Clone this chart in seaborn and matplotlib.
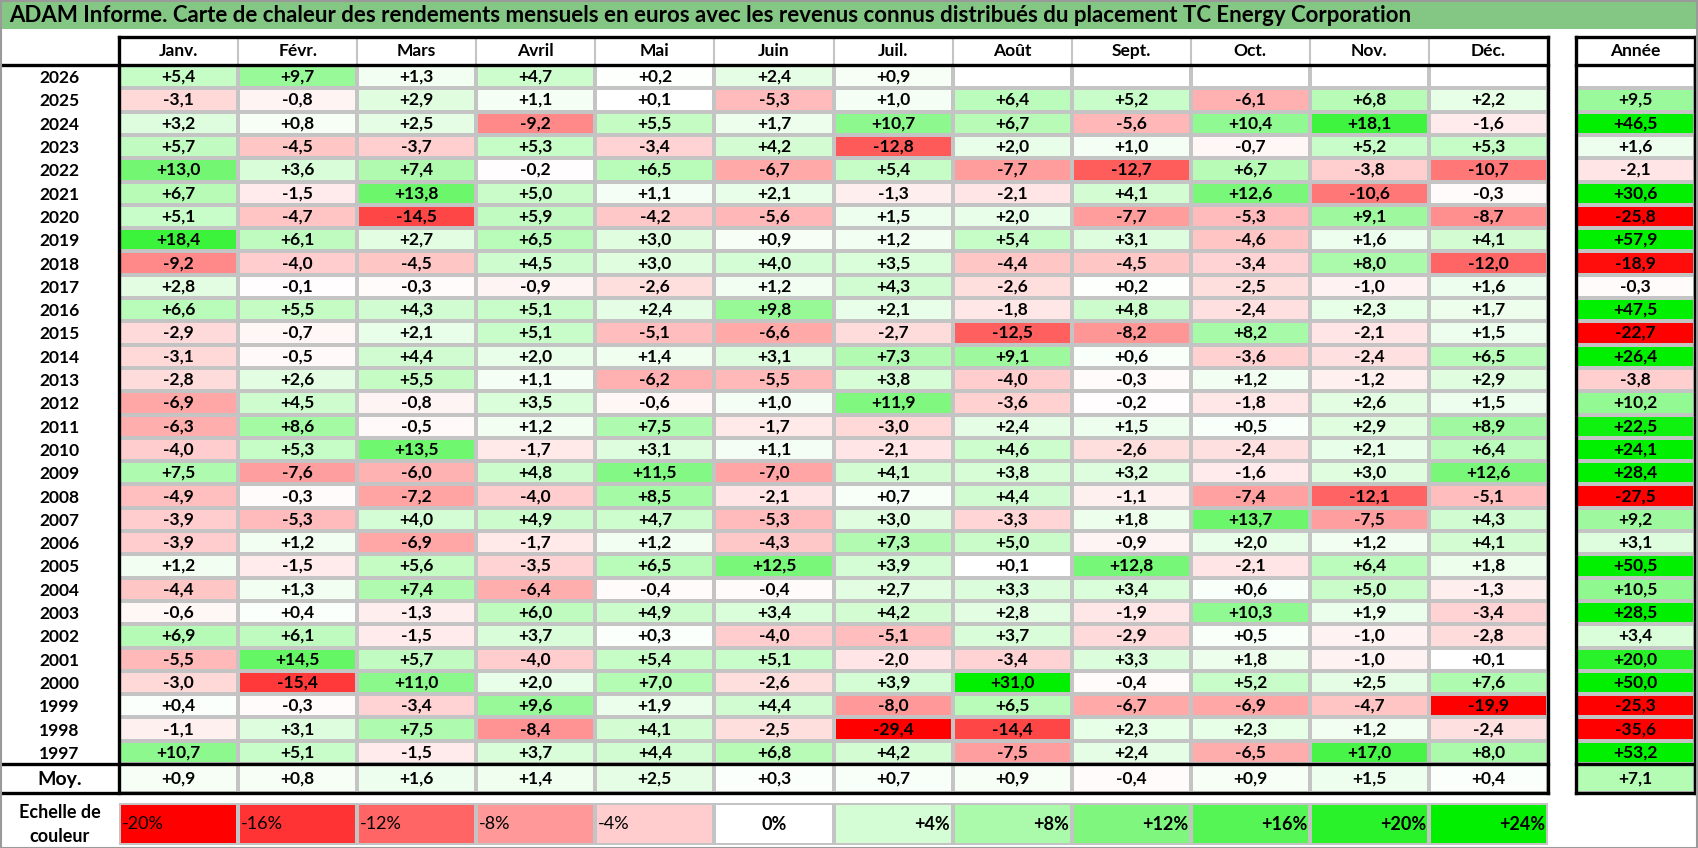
import numpy as np
import pandas as pd
import matplotlib
matplotlib.use("Agg")
import matplotlib.pyplot as plt
from matplotlib.colors import LinearSegmentedColormap
from matplotlib.lines import Line2D
from matplotlib.patches import Rectangle
import seaborn as sns

plt.rcParams["font.family"] = ["Lato", "DejaVu Sans"]

title = ("ADAM Informe. Carte de chaleur des rendements mensuels en euros avec les revenus "
         "connus distribués du placement TC Energy Corporation")

years = [str(y) for y in range(2026, 1996, -1)]
months = ["Janv.", "Févr.", "Mars", "Avril", "Mai", "Juin",
          "Juil.", "Août", "Sept.", "Oct.", "Nov.", "Déc."]

jan = [5.4, -3.1, 3.2, 5.7, 13.0, 6.7, 5.1, 18.4, -9.2, 2.8, 6.6, -2.9, -3.1, -2.8, -6.9,
       -6.3, -4.0, 7.5, -4.9, -3.9, -3.9, 1.2, -4.4, -0.6, 6.9, -5.5, -3.0, 0.4, -1.1, 10.7]
feb = [9.7, -0.8, 0.8, -4.5, 3.6, -1.5, -4.7, 6.1, -4.0, -0.1, 5.5, -0.7, -0.5, 2.6, 4.5,
       8.6, 5.3, -7.6, -0.3, -5.3, 1.2, -1.5, 1.3, 0.4, 6.1, 14.5, -15.4, -0.3, 3.1, 5.1]
mar = [1.3, 2.9, 2.5, -3.7, 7.4, 13.8, -14.5, 2.7, -4.5, -0.3, 4.3, 2.1, 4.4, 5.5, -0.8,
       -0.5, 13.5, -6.0, -7.2, 4.0, -6.9, 5.6, 7.4, -1.3, -1.5, 5.7, 11.0, -3.4, 7.5, -1.5]
apr = [4.7, 1.1, -9.2, 5.3, -0.2, 5.0, 5.9, 6.5, 4.5, -0.9, 5.1, 5.1, 2.0, 1.1, 3.5,
       1.2, -1.7, 4.8, -4.0, 4.9, -1.7, -3.5, -6.4, 6.0, 3.7, -4.0, 2.0, 9.6, -8.4, 3.7]
may = [0.2, 0.1, 5.5, -3.4, 6.5, 1.1, -4.2, 3.0, 3.0, -2.6, 2.4, -5.1, 1.4, -6.2, -0.6,
       7.5, 3.1, 11.5, 8.5, 4.7, 1.2, 6.5, -0.4, 4.9, 0.3, 5.4, 7.0, 1.9, 4.1, 4.4]
jun = [2.4, -5.3, 1.7, 4.2, -6.7, 2.1, -5.6, 0.9, 4.0, 1.2, 9.8, -6.6, 3.1, -5.5, 1.0,
       -1.7, 1.1, -7.0, -2.1, -5.3, -4.3, 12.5, -0.4, 3.4, -4.0, 5.1, -2.6, 4.4, -2.5, 6.8]
jul = [0.9, 1.0, 10.7, -12.8, 5.4, -1.3, 1.5, 1.2, 3.5, 4.3, 2.1, -2.7, 7.3, 3.8, 11.9,
       -3.0, -2.1, 4.1, 0.7, 3.0, 7.3, 3.9, 2.7, 4.2, -5.1, -2.0, 3.9, -8.0, -29.4, 4.2]
aug = [np.nan, 6.4, 6.7, 2.0, -7.7, -2.1, 2.0, 5.4, -4.4, -2.6, -1.8, -12.5, 9.1, -4.0, -3.6,
       2.4, 4.6, 3.8, 4.4, -3.3, 5.0, 0.1, 3.3, 2.8, 3.7, -3.4, 31.0, 6.5, -14.4, -7.5]
sep = [np.nan, 5.2, -5.6, 1.0, -12.7, 4.1, -7.7, 3.1, -4.5, 0.2, 4.8, -8.2, 0.6, -0.3, -0.2,
       1.5, -2.6, 3.2, -1.1, 1.8, -0.9, 12.8, 3.4, -1.9, -2.9, 3.3, -0.4, -6.7, 2.3, 2.4]
oct_ = [np.nan, -6.1, 10.4, -0.7, 6.7, 12.6, -5.3, -4.6, -3.4, -2.5, -2.4, 8.2, -3.6, 1.2, -1.8,
        0.5, -2.4, -1.6, -7.4, 13.7, 2.0, -2.1, 0.6, 10.3, 0.5, 1.8, 5.2, -6.9, 2.3, -6.5]
nov = [np.nan, 6.8, 18.1, 5.2, -3.8, -10.6, 9.1, 1.6, 8.0, -1.0, 2.3, -2.1, -2.4, -1.2, 2.6,
       2.9, 2.1, 3.0, -12.1, -7.5, 1.2, 6.4, 5.0, 1.9, -1.0, -1.0, 2.5, -4.7, 1.2, 17.0]
dec = [np.nan, 2.2, -1.6, 5.3, -10.7, -0.3, -8.7, 4.1, -12.0, 1.6, 1.7, 1.5, 6.5, 2.9, 1.5,
       8.9, 6.4, 12.6, -5.1, 4.3, 4.1, 1.8, -1.3, -3.4, -2.8, 0.1, 7.6, -19.9, -2.4, 8.0]
annual = [np.nan, 9.5, 46.5, 1.6, -2.1, 30.6, -25.8, 57.9, -18.9, -0.3, 47.5, -22.7, 26.4, -3.8, 10.2,
          22.5, 24.1, 28.4, -27.5, 9.2, 3.1, 50.5, 10.5, 28.5, 3.4, 20.0, 50.0, -25.3, -35.6, 53.2]
month_avg = [0.9, 0.8, 1.6, 1.4, 2.5, 0.3, 0.7, 0.9, -0.4, 0.9, 1.5, 0.4]
annual_avg = [7.1]
scale_steps = [-20, -16, -12, -8, -4, 0, 4, 8, 12, 16, 20, 24]
scale_labels = ["-20%", "-16%", "-12%", "-8%", "-4%", "0%",
                "+4%", "+8%", "+12%", "+16%", "+20%", "+24%"]

monthly = pd.DataFrame(dict(zip(months, [jan, feb, mar, apr, may, jun, jul, aug, sep, oct_, nov, dec])),
                       index=years)

W, H = 1698, 848
VMIN, VMAX = -20, 24
cmap = LinearSegmentedColormap.from_list(
    "adam", [(0, "#ff0000"), (-VMIN / (VMAX - VMIN), "#ffffff"), (1, "#00f000")])
GRID = "#c4c4c4"
TXT = dict(fontsize=12.5, fontweight="bold", color="black")


def box(x0, y0, x1, y1):
    return [x0 / W, 1 - y1 / H, (x1 - x0) / W, (y1 - y0) / H]


def fmt(v):
    if np.isnan(v):
        return ""
    return f"{v:+.1f}".replace(".", ",")


def hline(y, x0, x1, lw=2.4, color="black"):
    fig.add_artist(Line2D([x0 / W, x1 / W], [1 - y / H, 1 - y / H], lw=lw, color=color,
                          transform=fig.transFigure, zorder=10))


def vline(x, y0, y1, lw=2.4, color="black"):
    fig.add_artist(Line2D([x / W, x / W], [1 - y0 / H, 1 - y1 / H], lw=lw, color=color,
                          transform=fig.transFigure, zorder=10))


def heat(ax, data, labels):
    sns.heatmap(data, ax=ax, cmap=cmap, vmin=VMIN, vmax=VMAX, cbar=False,
                annot=labels, fmt="", annot_kws=TXT, linewidths=1.5, linecolor=GRID,
                xticklabels=False, yticklabels=False)
    ax.tick_params(length=0)


fig = plt.figure(figsize=(W / 100, H / 100), dpi=100)
fig.patch.set_facecolor("white")

# bandeau titre
ax_t = fig.add_axes(box(1, 1, 1696, 29))
ax_t.set_facecolor("#84c784")
ax_t.set_xticks([])
ax_t.set_yticks([])
for s in ax_t.spines.values():
    s.set_visible(False)
ax_t.text(8 / 1695, 0.5, title, ha="left", va="center", fontsize=16, fontweight="bold",
          transform=ax_t.transAxes)

X0, X1 = 119, 1548
YX0, YX1 = 1576, 1695
HY0, HY1 = 37, 65
TY1 = 764
MY1 = 793

# en-tetes des mois
ax_h = fig.add_axes(box(X0, HY0, X1, HY1))
ax_h.set_xlim(0, 12)
ax_h.set_ylim(0, 1)
ax_h.axis("off")
for i, m in enumerate(months):
    ax_h.text(i + 0.5, 0.5, m, ha="center", va="center", **TXT)
    if i:
        ax_h.axvline(i, color=GRID, lw=1.5)

# tableau principal
ax_m = fig.add_axes(box(X0, HY1, X1, TY1))
heat(ax_m, monthly, monthly.map(fmt).values)
ax_m.set_yticks(np.arange(len(years)) + 0.5)
ax_m.set_yticklabels(years, rotation=0, ha="center", **TXT)
ax_m.tick_params(axis="y", pad=59.5 * 0.72)

# moyennes mensuelles
ax_a = fig.add_axes(box(X0, TY1, X1, MY1))
avg_df = pd.DataFrame([month_avg], columns=months, index=["Moy."])
heat(ax_a, avg_df, avg_df.map(fmt).values)
ax_a.set_yticks([0.5])
ax_a.set_yticklabels(["Moy."], rotation=0, ha="center", fontsize=14, fontweight="bold")
ax_a.tick_params(axis="y", pad=59.5 * 0.72)

# colonne annee
ax_yh = fig.add_axes(box(YX0, HY0, YX1, HY1))
ax_yh.axis("off")
ax_yh.text(0.5, 0.5, "Année", ha="center", va="center", transform=ax_yh.transAxes, **TXT)

ax_y = fig.add_axes(box(YX0, HY1, YX1, TY1))
year_df = pd.DataFrame({"Année": annual}, index=years)
heat(ax_y, year_df, year_df.map(fmt).values)

ax_ya = fig.add_axes(box(YX0, TY1, YX1, MY1))
ya_df = pd.DataFrame({"Année": annual_avg})
heat(ax_ya, ya_df, ya_df.map(fmt).values)

# bordures epaisses
hline(HY0, X0, X1)
hline(HY1, 0, X1)
hline(TY1, 0, X1)
hline(MY1, 0, X1)
vline(X0, HY0, MY1)
vline(X1, HY0, MY1)
for y in (HY0, HY1, TY1, MY1):
    hline(y, YX0, YX1)
vline(YX0, HY0, MY1)
vline(YX1, HY0, MY1)

# echelle de couleur
LY0, LY1 = 803, 845
ax_l = fig.add_axes(box(X0, LY0, X1, LY1))
leg_df = pd.DataFrame([scale_steps], columns=scale_labels)
heat(ax_l, leg_df, False)
LEG = dict(fontsize=13, color="black")
for i, (v, lab) in enumerate(zip(scale_steps, scale_labels)):
    if v < 0:
        ax_l.text(i + 0.02, 0.5, lab, ha="left", va="center", **LEG)
    elif v == 0:
        ax_l.text(i + 0.5, 0.5, lab, ha="center", va="center", fontweight="bold", **LEG)
    else:
        ax_l.text(i + 0.98, 0.5, lab, ha="right", va="center", fontweight="bold", **LEG)
fig.text(59.5 / W, 1 - 824 / H, "Echelle de\ncouleur", ha="center", va="center",
         linespacing=1.5, fontsize=13, fontweight="bold", color="black")

# cadre exterieur
fig.add_artist(Rectangle((0.5 / W, 0.5 / H), (W - 1.5) / W, (H - 1.5) / H, fill=False,
                         edgecolor="#9a9a9a", lw=1.5, transform=fig.transFigure, zorder=11))

fig.savefig("out.png", dpi=100)
